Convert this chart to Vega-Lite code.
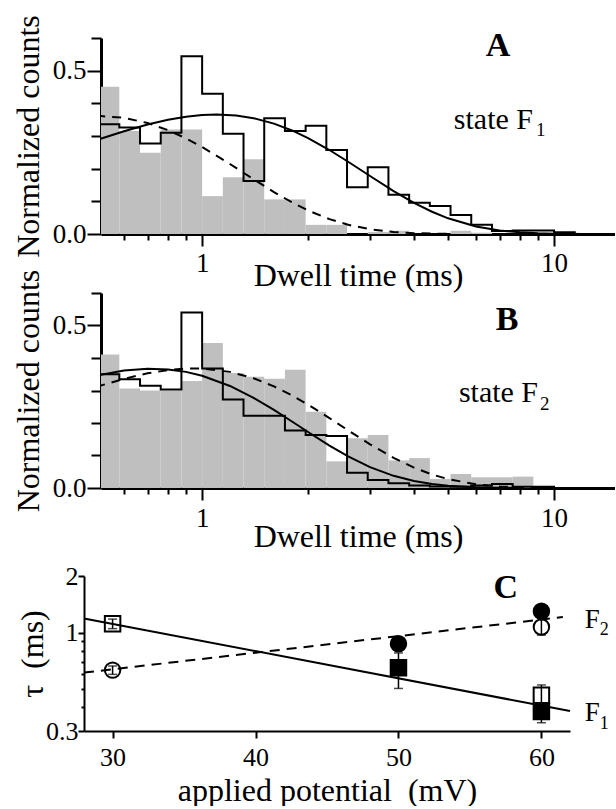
{
  "$schema": "https://vega.github.io/schema/vega-lite/v6.json",
  "background": "white",
  "padding": {"left": 12, "top": 14, "right": 0, "bottom": 0},
  "config": {
    "view": {"stroke": null},
    "axis": {"grid": false, "domainColor": "black", "tickColor": "black", "labelColor": "black", "titleColor": "black", "labelFont": "Liberation Serif", "titleFont": "Liberation Serif", "titleFontWeight": "normal", "labelFontSize": 27, "titleFontSize": 32, "domainWidth": 3, "tickWidth": 2, "labelFlush": false, "labelOverlap": false}
  },
  "datasets": {
    "grayA": [
      {"x0": 0.508, "x1": 0.5817, "h": 0.451}, {"x0": 0.5817, "x1": 0.6661, "h": 0.315}, {"x0": 0.6661, "x1": 0.7627, "h": 0.249}, {"x0": 0.7627, "x1": 0.8733, "h": 0.32}, {"x0": 0.8733, "x1": 1, "h": 0.32}, {"x0": 1, "x1": 1.1451, "h": 0.116}, {"x0": 1.1451, "x1": 1.3111, "h": 0.174}, {"x0": 1.3111, "x1": 1.5013, "h": 0.229}, {"x0": 1.5013, "x1": 1.7191, "h": 0.106}, {"x0": 1.7191, "x1": 1.9684, "h": 0.106}, {"x0": 1.9684, "x1": 2.2539, "h": 0.028}, {"x0": 2.2539, "x1": 2.5809, "h": 0.028}, {"x0": 2.9552, "x1": 3.3839, "h": 0.006}, {"x0": 3.3839, "x1": 3.8747, "h": 0.01}, {"x0": 5.0802, "x1": 5.8171, "h": 0.01}, {"x0": 5.8171, "x1": 6.6609, "h": 0.004}
    ],
    "openA": [
      {"x": 0.508, "y": 0.336}, {"x": 0.5817, "y": 0.326}, {"x": 0.6661, "y": 0.277}, {"x": 0.7627, "y": 0.31}, {"x": 0.8733, "y": 0.544}, {"x": 1, "y": 0.429}, {"x": 1.1451, "y": 0.307}, {"x": 1.3111, "y": 0.162}, {"x": 1.5013, "y": 0.354}, {"x": 1.7191, "y": 0.315}, {"x": 1.9684, "y": 0.331}, {"x": 2.2539, "y": 0.257}, {"x": 2.5809, "y": 0.143}, {"x": 2.9552, "y": 0.204}, {"x": 3.3839, "y": 0.12}, {"x": 3.8747, "y": 0.096}, {"x": 4.4367, "y": 0.086}, {"x": 5.0802, "y": 0.058}, {"x": 5.8171, "y": 0.028}, {"x": 6.6609, "y": 0.009}, {"x": 7.627, "y": 0.011}, {"x": 8.7333, "y": 0.011}, {"x": 10, "y": 0.005}, {"x": 11.4505, "y": 0}
    ],
    "solidA": [
      {"x": 0.5, "y": 0.2871}, {"x": 0.6, "y": 0.3146}, {"x": 0.7, "y": 0.3351}, {"x": 0.8, "y": 0.3496}, {"x": 0.9, "y": 0.3592}, {"x": 1.0, "y": 0.3644}, {"x": 1.1, "y": 0.366}, {"x": 1.25, "y": 0.3629}, {"x": 1.4, "y": 0.3546}, {"x": 1.6, "y": 0.3379}, {"x": 1.8, "y": 0.317}, {"x": 2.0, "y": 0.2936}, {"x": 2.3, "y": 0.2571}, {"x": 2.6, "y": 0.2212}, {"x": 3.0, "y": 0.1775}, {"x": 3.5, "y": 0.1314}, {"x": 4.0, "y": 0.0953}, {"x": 4.5, "y": 0.0681}, {"x": 5, "y": 0.048}, {"x": 6, "y": 0.0232}, {"x": 7, "y": 0.0109}, {"x": 8, "y": 0.005}, {"x": 9, "y": 0.0023}, {"x": 10, "y": 0.001}, {"x": 11, "y": 0.0004}, {"x": 12, "y": 0.0002}
    ],
    "dashA": [
      {"x": 0.5, "y": 0.362}, {"x": 0.6, "y": 0.3557}, {"x": 0.7, "y": 0.3397}, {"x": 0.8, "y": 0.3179}, {"x": 0.9, "y": 0.2928}, {"x": 1.0, "y": 0.2663}, {"x": 1.2, "y": 0.2142}, {"x": 1.4, "y": 0.1675}, {"x": 1.6, "y": 0.1284}, {"x": 1.8, "y": 0.0968}, {"x": 2.0, "y": 0.0721}, {"x": 2.3, "y": 0.0455}, {"x": 2.6, "y": 0.0282}, {"x": 3.0, "y": 0.0146}, {"x": 3.5, "y": 0.0063}, {"x": 4.0, "y": 0.0026}, {"x": 4.5, "y": 0.0011}, {"x": 5, "y": 0.0004}
    ],
    "grayB": [
      {"x0": 0.508, "x1": 0.5817, "h": 0.411}, {"x0": 0.5817, "x1": 0.6661, "h": 0.306}, {"x0": 0.6661, "x1": 0.7627, "h": 0.3}, {"x0": 0.7627, "x1": 0.8733, "h": 0.3}, {"x0": 0.8733, "x1": 1, "h": 0.329}, {"x0": 1, "x1": 1.1451, "h": 0.446}, {"x0": 1.1451, "x1": 1.3111, "h": 0.354}, {"x0": 1.3111, "x1": 1.5013, "h": 0.342}, {"x0": 1.5013, "x1": 1.7191, "h": 0.336}, {"x0": 1.7191, "x1": 1.9684, "h": 0.364}, {"x0": 1.9684, "x1": 2.2539, "h": 0.235}, {"x0": 2.2539, "x1": 2.5809, "h": 0.082}, {"x0": 2.5809, "x1": 2.9552, "h": 0.153}, {"x0": 2.9552, "x1": 3.3839, "h": 0.163}, {"x0": 3.3839, "x1": 3.8747, "h": 0.085}, {"x0": 3.8747, "x1": 4.4367, "h": 0.092}, {"x0": 4.4367, "x1": 5.0802, "h": 0.028}, {"x0": 5.0802, "x1": 5.8171, "h": 0.043}, {"x0": 5.8171, "x1": 6.6609, "h": 0.033}, {"x0": 6.6609, "x1": 7.627, "h": 0.033}, {"x0": 7.627, "x1": 8.7333, "h": 0.035}
    ],
    "openB": [
      {"x": 0.508, "y": 0.35}, {"x": 0.5817, "y": 0.335}, {"x": 0.6661, "y": 0.315}, {"x": 0.7627, "y": 0.303}, {"x": 0.8733, "y": 0.54}, {"x": 1, "y": 0.368}, {"x": 1.1451, "y": 0.272}, {"x": 1.3111, "y": 0.222}, {"x": 1.5013, "y": 0.222}, {"x": 1.7191, "y": 0.177}, {"x": 1.9684, "y": 0.163}, {"x": 2.2539, "y": 0.16}, {"x": 2.5809, "y": 0.047}, {"x": 2.9552, "y": 0.025}, {"x": 3.3839, "y": 0.015}, {"x": 3.8747, "y": 0.008}, {"x": 4.4367, "y": 0.005}, {"x": 5.0802, "y": 0.004}, {"x": 5.8171, "y": 0.008}, {"x": 6.6609, "y": 0.012}, {"x": 7.627, "y": 0.004}, {"x": 8.7333, "y": 0.004}, {"x": 10, "y": 0}
    ],
    "solidB": [
      {"x": 0.5, "y": 0.346}, {"x": 0.6, "y": 0.3613}, {"x": 0.7, "y": 0.3669}, {"x": 0.8, "y": 0.3649}, {"x": 0.9, "y": 0.3573}, {"x": 1.0, "y": 0.3455}, {"x": 1.2, "y": 0.314}, {"x": 1.4, "y": 0.2775}, {"x": 1.6, "y": 0.2403}, {"x": 1.8, "y": 0.2047}, {"x": 2.0, "y": 0.1723}, {"x": 2.3, "y": 0.1306}, {"x": 2.6, "y": 0.0973}, {"x": 3.0, "y": 0.0644}, {"x": 3.5, "y": 0.0375}, {"x": 4.0, "y": 0.0214}, {"x": 4.5, "y": 0.012}, {"x": 5, "y": 0.0067}, {"x": 6, "y": 0.002}, {"x": 7, "y": 0.0006}, {"x": 8, "y": 0.0002}
    ],
    "dashB": [
      {"x": 0.5, "y": 0.311}, {"x": 0.6, "y": 0.336}, {"x": 0.7, "y": 0.3528}, {"x": 0.8, "y": 0.3629}, {"x": 0.9, "y": 0.3675}, {"x": 1.0, "y": 0.3675}, {"x": 1.2, "y": 0.3573}, {"x": 1.4, "y": 0.3377}, {"x": 1.6, "y": 0.3127}, {"x": 1.8, "y": 0.285}, {"x": 2.0, "y": 0.2565}, {"x": 2.3, "y": 0.2152}, {"x": 2.6, "y": 0.1774}, {"x": 3.0, "y": 0.1344}, {"x": 3.5, "y": 0.0926}, {"x": 4.0, "y": 0.0625}, {"x": 4.5, "y": 0.0415}, {"x": 5, "y": 0.0273}, {"x": 6, "y": 0.0114}, {"x": 7, "y": 0.0046}, {"x": 8, "y": 0.0019}, {"x": 9, "y": 0.0007}, {"x": 10, "y": 0.0003}
    ],
    "fitF1": [{"x": 28, "y": 1.19}, {"x": 62, "y": 0.383}],
    "fitF2": [{"x": 28, "y": 0.613}, {"x": 61.5, "y": 1.21}],
    "points": [
      {"x": 30, "y": 1.116, "state": "F1", "kind": "open", "lo": 1.05, "hi": 1.18},
      {"x": 30, "y": 0.632, "state": "F2", "kind": "open", "lo": 0.6, "hi": 0.665},
      {"x": 50, "y": 0.651, "state": "F1", "kind": "filled", "lo": 0.505, "hi": 0.78},
      {"x": 50, "y": 0.873, "state": "F2", "kind": "filled", "lo": 0.85, "hi": 0.9},
      {"x": 60, "y": 0.464, "state": "F1", "kind": "open", "lo": 0.4, "hi": 0.527},
      {"x": 60, "y": 0.381, "state": "F1", "kind": "filled", "lo": 0.332, "hi": 0.42},
      {"x": 60, "y": 1.071, "state": "F2", "kind": "open", "lo": 0.971, "hi": 1.2},
      {"x": 60, "y": 1.3, "state": "F2", "kind": "filled", "lo": 1.27, "hi": 1.33}
    ]
  },
  "concat": [
    {
      "columns": 1,
      "align": "none",
      "spacing": -22,
      "concat": [
        {
          "width": 514,
          "height": 196,
          "resolve": {"axis": {"x": "independent", "y": "independent"}},
          "layer": [
            {
              "data": {"name": "grayA"},
              "mark": {"type": "rect", "color": "#bfbfbf", "clip": true},
              "encoding": {
                "x": {"field": "x0", "type": "quantitative", "scale": {"type": "log", "domain": [0.516, 14.9], "nice": false}, "axis": {"orient": "bottom", "values": [1, 10], "format": "d", "tickSize": 12, "labelPadding": 4, "title": "Dwell time (ms)", "titlePadding": -16}},
                "x2": {"field": "x1"},
                "y": {"field": "h", "type": "quantitative", "scale": {"domain": [0, 0.6], "nice": false, "zero": false}, "axis": {"orient": "left", "values": [0, 0.5], "format": ".1f", "tickSize": 14, "labelPadding": 1, "title": "Normalized counts", "titlePadding": 7}},
                "y2": {"datum": 0}
              }
            },
            {
              "data": {"name": "openA"},
              "mark": {"type": "line", "interpolate": "step-after", "color": "black", "strokeWidth": 2, "clip": true},
              "encoding": {
                "x": {"field": "x", "type": "quantitative", "scale": {"type": "log", "domain": [0.516, 14.9], "nice": false}, "axis": {"orient": "bottom", "values": [0.6, 0.7, 0.8, 0.9, 2, 3, 4, 5, 6, 7, 8, 9], "tickSize": 6, "labels": false, "domain": false, "title": null}},
                "y": {"field": "y", "type": "quantitative", "scale": {"domain": [0, 0.6], "nice": false, "zero": false}, "axis": {"orient": "left", "values": [0.1, 0.2, 0.3, 0.4, 0.6], "tickSize": 10, "labels": false, "domain": false, "title": null}}
              }
            },
            {
              "data": {"name": "solidA"},
              "mark": {"type": "line", "color": "black", "strokeWidth": 2, "clip": true},
              "encoding": {
                "x": {"field": "x", "type": "quantitative", "scale": {"type": "log", "domain": [0.516, 14.9], "nice": false}, "axis": null},
                "y": {"field": "y", "type": "quantitative", "scale": {"domain": [0, 0.6], "nice": false, "zero": false}, "axis": null}
              }
            },
            {
              "data": {"name": "dashA"},
              "mark": {"type": "line", "color": "black", "strokeWidth": 2, "strokeDash": [9, 7], "clip": true},
              "encoding": {
                "x": {"field": "x", "type": "quantitative", "scale": {"type": "log", "domain": [0.516, 14.9], "nice": false}, "axis": null},
                "y": {"field": "y", "type": "quantitative", "scale": {"domain": [0, 0.6], "nice": false, "zero": false}, "axis": null}
              }
            },
            {
              "data": {"values": [{}]},
              "mark": {"type": "text", "text": "A", "font": "Liberation Serif", "fontSize": 34, "fontWeight": "bold", "align": "center", "baseline": "alphabetic", "color": "black"},
              "encoding": {
                "x": {"datum": 6.934, "type": "quantitative", "scale": {"type": "log", "domain": [0.516, 14.9], "nice": false}, "axis": null},
                "y": {"datum": 0.545, "type": "quantitative", "scale": {"domain": [0, 0.6], "nice": false, "zero": false}, "axis": null}
              }
            },
            {
              "data": {"values": [{}]},
              "mark": {"type": "text", "text": "state F", "font": "Liberation Serif", "fontSize": 30, "align": "right", "baseline": "alphabetic", "color": "black"},
              "encoding": {
                "x": {"datum": 8.714, "type": "quantitative", "scale": {"type": "log", "domain": [0.516, 14.9], "nice": false}, "axis": null},
                "y": {"datum": 0.321, "type": "quantitative", "scale": {"domain": [0, 0.6], "nice": false, "zero": false}, "axis": null}
              }
            },
            {
              "data": {"values": [{}]},
              "mark": {"type": "text", "text": "1", "font": "Liberation Serif", "fontSize": 19, "align": "left", "baseline": "alphabetic", "dx": 3, "dy": 7, "color": "black"},
              "encoding": {
                "x": {"datum": 8.714, "type": "quantitative", "scale": {"type": "log", "domain": [0.516, 14.9], "nice": false}, "axis": null},
                "y": {"datum": 0.321, "type": "quantitative", "scale": {"domain": [0, 0.6], "nice": false, "zero": false}, "axis": null}
              }
            }
          ]
        },
        {
          "width": 514,
          "height": 195,
          "resolve": {"axis": {"x": "independent", "y": "independent"}},
          "layer": [
            {
              "data": {"name": "grayB"},
              "mark": {"type": "rect", "color": "#bfbfbf", "clip": true},
              "encoding": {
                "x": {"field": "x0", "type": "quantitative", "scale": {"type": "log", "domain": [0.516, 14.9], "nice": false}, "axis": {"orient": "bottom", "values": [1, 10], "format": "d", "tickSize": 12, "labelPadding": 5, "title": "Dwell time (ms)", "titlePadding": -10}},
                "x2": {"field": "x1"},
                "y": {"field": "h", "type": "quantitative", "scale": {"domain": [0, 0.6], "nice": false, "zero": false}, "axis": {"orient": "left", "values": [0, 0.5], "format": ".1f", "tickSize": 14, "labelPadding": 1, "title": "Normalized counts", "titlePadding": 7}},
                "y2": {"datum": 0}
              }
            },
            {
              "data": {"name": "openB"},
              "mark": {"type": "line", "interpolate": "step-after", "color": "black", "strokeWidth": 2, "clip": true},
              "encoding": {
                "x": {"field": "x", "type": "quantitative", "scale": {"type": "log", "domain": [0.516, 14.9], "nice": false}, "axis": {"orient": "bottom", "values": [0.6, 0.7, 0.8, 0.9, 2, 3, 4, 5, 6, 7, 8, 9], "tickSize": 6, "labels": false, "domain": false, "title": null}},
                "y": {"field": "y", "type": "quantitative", "scale": {"domain": [0, 0.6], "nice": false, "zero": false}, "axis": {"orient": "left", "values": [0.1, 0.2, 0.3, 0.4, 0.6], "tickSize": 10, "labels": false, "domain": false, "title": null}}
              }
            },
            {
              "data": {"name": "solidB"},
              "mark": {"type": "line", "color": "black", "strokeWidth": 2, "clip": true},
              "encoding": {
                "x": {"field": "x", "type": "quantitative", "scale": {"type": "log", "domain": [0.516, 14.9], "nice": false}, "axis": null},
                "y": {"field": "y", "type": "quantitative", "scale": {"domain": [0, 0.6], "nice": false, "zero": false}, "axis": null}
              }
            },
            {
              "data": {"name": "dashB"},
              "mark": {"type": "line", "color": "black", "strokeWidth": 2, "strokeDash": [9, 7], "clip": true},
              "encoding": {
                "x": {"field": "x", "type": "quantitative", "scale": {"type": "log", "domain": [0.516, 14.9], "nice": false}, "axis": null},
                "y": {"field": "y", "type": "quantitative", "scale": {"domain": [0, 0.6], "nice": false, "zero": false}, "axis": null}
              }
            },
            {
              "data": {"values": [{}]},
              "mark": {"type": "text", "text": "B", "font": "Liberation Serif", "fontSize": 34, "fontWeight": "bold", "align": "center", "baseline": "alphabetic", "color": "black"},
              "encoding": {
                "x": {"datum": 7.354, "type": "quantitative", "scale": {"type": "log", "domain": [0.516, 14.9], "nice": false}, "axis": null},
                "y": {"datum": 0.4847, "type": "quantitative", "scale": {"domain": [0, 0.6], "nice": false, "zero": false}, "axis": null}
              }
            },
            {
              "data": {"values": [{}]},
              "mark": {"type": "text", "text": "state F", "font": "Liberation Serif", "fontSize": 30, "align": "right", "baseline": "alphabetic", "color": "black"},
              "encoding": {
                "x": {"datum": 9.006, "type": "quantitative", "scale": {"type": "log", "domain": [0.516, 14.9], "nice": false}, "axis": null},
                "y": {"datum": 0.265, "type": "quantitative", "scale": {"domain": [0, 0.6], "nice": false, "zero": false}, "axis": null}
              }
            },
            {
              "data": {"values": [{}]},
              "mark": {"type": "text", "text": "2", "font": "Liberation Serif", "fontSize": 19, "align": "left", "baseline": "alphabetic", "dx": 2, "dy": 8, "color": "black"},
              "encoding": {
                "x": {"datum": 9.006, "type": "quantitative", "scale": {"type": "log", "domain": [0.516, 14.9], "nice": false}, "axis": null},
                "y": {"datum": 0.265, "type": "quantitative", "scale": {"domain": [0, 0.6], "nice": false, "zero": false}, "axis": null}
              }
            }
          ]
        }
      ]
    },
    {
      "width": 469,
      "height": 155,
      "resolve": {"axis": {"x": "independent", "y": "independent"}},
      "layer": [
        {
          "data": {"name": "fitF1"},
          "mark": {"type": "line", "color": "black", "strokeWidth": 2},
          "encoding": {
            "x": {"field": "x", "type": "quantitative", "scale": {"domain": [28, 62], "range": [-17, 469], "nice": false, "zero": false}, "axis": {"orient": "bottom", "values": [30, 40, 50, 60], "format": "d", "tickSize": 7, "labelPadding": 6, "labelFontSize": 26, "domainWidth": 2, "title": "applied potential\u00a0 (mV)", "titlePadding": 5}},
            "y": {"field": "y", "type": "quantitative", "scale": {"type": "log", "domain": [0.3, 2], "nice": false}, "axis": {"orient": "left", "offset": 17, "values": [0.3, 1, 2], "format": "~g", "tickSize": 6, "labelPadding": 0, "labelFontSize": 26, "domainWidth": 2, "title": "τ\u00a0 (ms)", "titlePadding": -4}}
          }
        },
        {
          "data": {"name": "fitF2"},
          "mark": {"type": "line", "color": "black", "strokeWidth": 2, "strokeDash": [10, 7]},
          "encoding": {
            "x": {"field": "x", "type": "quantitative", "scale": {"domain": [28, 62], "range": [-17, 469], "nice": false, "zero": false}, "axis": null},
            "y": {"field": "y", "type": "quantitative", "scale": {"type": "log", "domain": [0.3, 2], "nice": false}, "axis": {"orient": "left", "offset": 17, "values": [0.4, 0.5, 0.6, 0.7, 0.8, 0.9], "tickSize": 3, "labels": false, "domain": false, "title": null}}
          }
        },
        {
          "data": {"name": "points"},
          "mark": {"type": "errorbar", "color": "black", "thickness": 1.5, "ticks": {"size": 9}},
          "encoding": {
            "x": {"field": "x", "type": "quantitative", "scale": {"domain": [28, 62], "range": [-17, 469], "nice": false, "zero": false}, "axis": null},
            "y": {"field": "lo", "type": "quantitative", "scale": {"type": "log", "domain": [0.3, 2], "nice": false}, "axis": null},
            "y2": {"field": "hi"}
          }
        },
        {
          "data": {"name": "points"},
          "mark": {"type": "point", "filled": false, "stroke": "black", "strokeWidth": 2, "size": 240, "opacity": 1},
          "encoding": {
            "x": {"field": "x", "type": "quantitative", "scale": {"domain": [28, 62], "range": [-17, 469], "nice": false, "zero": false}, "axis": null},
            "y": {"field": "y", "type": "quantitative", "scale": {"type": "log", "domain": [0.3, 2], "nice": false}, "axis": null},
            "shape": {"field": "state", "type": "nominal", "scale": {"domain": ["F1", "F2"], "range": ["square", "circle"]}, "legend": null},
            "fill": {"field": "kind", "type": "nominal", "scale": {"domain": ["open", "filled"], "range": ["transparent", "black"]}, "legend": null}
          }
        },
        {
          "data": {"values": [{}]},
          "mark": {"type": "text", "text": "C", "font": "Liberation Serif", "fontSize": 34, "fontWeight": "bold", "align": "center", "baseline": "alphabetic", "color": "black"},
          "encoding": {
            "x": {"datum": 57.51, "type": "quantitative", "scale": {"domain": [28, 62], "range": [-17, 469], "nice": false, "zero": false}, "axis": null},
            "y": {"datum": 1.534, "type": "quantitative", "scale": {"type": "log", "domain": [0.3, 2], "nice": false}, "axis": null}
          }
        },
        {
          "data": {"values": [{}]},
          "mark": {"type": "text", "text": "F", "font": "Liberation Serif", "fontSize": 27, "align": "left", "baseline": "alphabetic", "color": "black"},
          "encoding": {
            "x": {"datum": 63.03, "type": "quantitative", "scale": {"domain": [28, 62], "range": [-17, 469], "nice": false, "zero": false}, "axis": null},
            "y": {"datum": 1.062, "type": "quantitative", "scale": {"type": "log", "domain": [0.3, 2], "nice": false}, "axis": null}
          }
        },
        {
          "data": {"values": [{}]},
          "mark": {"type": "text", "text": "2", "font": "Liberation Serif", "fontSize": 18, "align": "left", "baseline": "alphabetic", "dx": 15, "dy": 7, "color": "black"},
          "encoding": {
            "x": {"datum": 63.03, "type": "quantitative", "scale": {"domain": [28, 62], "range": [-17, 469], "nice": false, "zero": false}, "axis": null},
            "y": {"datum": 1.062, "type": "quantitative", "scale": {"type": "log", "domain": [0.3, 2], "nice": false}, "axis": null}
          }
        },
        {
          "data": {"values": [{}]},
          "mark": {"type": "text", "text": "F", "font": "Liberation Serif", "fontSize": 27, "align": "left", "baseline": "alphabetic", "color": "black"},
          "encoding": {
            "x": {"datum": 63.03, "type": "quantitative", "scale": {"domain": [28, 62], "range": [-17, 469], "nice": false, "zero": false}, "axis": null},
            "y": {"datum": 0.34, "type": "quantitative", "scale": {"type": "log", "domain": [0.3, 2], "nice": false}, "axis": null}
          }
        },
        {
          "data": {"values": [{}]},
          "mark": {"type": "text", "text": "1", "font": "Liberation Serif", "fontSize": 18, "align": "left", "baseline": "alphabetic", "dx": 15, "dy": 8, "color": "black"},
          "encoding": {
            "x": {"datum": 63.03, "type": "quantitative", "scale": {"domain": [28, 62], "range": [-17, 469], "nice": false, "zero": false}, "axis": null},
            "y": {"datum": 0.34, "type": "quantitative", "scale": {"type": "log", "domain": [0.3, 2], "nice": false}, "axis": null}
          }
        }
      ]
    }
  ],
  "columns": 1,
  "spacing": 11,
  "align": "none"
}
